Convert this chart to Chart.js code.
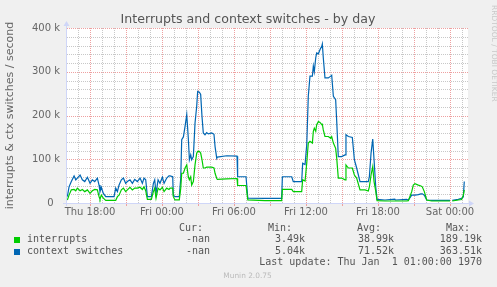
<!DOCTYPE html>
<html>
<head>
<meta charset="utf-8">
<script src="https://cdn.jsdelivr.net/npm/chart.js@4"></script>
<style>
html,body{margin:0;padding:0;background:#F0F0F0;}
#wrap{position:relative;width:497px;height:287px;overflow:hidden;background:#F0F0F0;}
#c{position:absolute;left:0;top:0;}
.tx{position:absolute;white-space:pre;}
.m{font-family:"DejaVu Sans Mono",monospace;font-size:10px;line-height:12px;color:#555;}
#title{left:0;width:496px;text-align:center;top:12px;font-family:"DejaVu Sans",sans-serif;font-size:12.6px;line-height:14px;color:#555;}
#wm{left:490px;top:5px;writing-mode:vertical-rl;font-family:"DejaVu Sans",sans-serif;font-size:7.5px;line-height:8px;color:#c8c8c8;}
#ver{left:0;width:495px;text-align:center;top:271px;font-family:"DejaVu Sans",sans-serif;font-size:7.4px;line-height:9px;color:#bbb;}
.sq{position:absolute;width:6px;height:6px;}
</style>
</head>
<body>
<div id="wrap">
<canvas id="c" width="497" height="287"></canvas>
<div id="title" class="tx">Interrupts and context switches - by day</div>
<div id="wm" class="tx">RRDTOOL / TOBI OETIKER</div>
<div id="ver" class="tx">Munin 2.0.75</div>
</div>
<script>
// time in hours since Thu 00:00
const hours = [16.11,16.25,16.44,16.67,16.81,16.94,17.17,17.36,17.56,17.78,18.0,18.19,18.39,18.61,18.75,18.83,18.94,19.11,19.31,20.0,20.14,20.28,20.42,20.61,20.78,20.97,21.11,21.33,21.53,21.72,21.94,22.17,22.36,22.5,22.64,22.78,23.11,23.28,23.39,23.5,23.67,23.83,24.03,24.17,24.39,24.58,24.67,24.89,24.94,25.08,25.44,25.56,25.64,25.78,25.92,26.06,26.19,26.28,26.39,26.47,26.61,26.75,26.89,26.97,27.11,27.22,27.33,27.44,27.58,27.72,27.86,28.14,28.33,28.42,28.56,28.61,29.39,30.25,30.3,31.0,31.15,32.58,33.97,34.03,34.81,34.94,35.64,35.72,35.92,36.06,36.19,36.33,36.53,36.61,36.69,36.81,36.89,37.03,37.17,37.31,37.36,37.44,37.58,37.86,38.06,38.14,38.28,38.47,38.56,38.69,38.97,39.25,39.33,39.53,39.86,40.03,40.22,40.5,40.92,41.19,41.28,41.42,41.56,41.67,41.81,41.92,42.58,43.4,43.45,44.39,44.53,44.81,44.94,45.08,45.36,45.58,45.69,45.86,46.06,46.47,48.0,48.08,48.19,48.69,48.97,49.11,49.19];
// interrupts per second, thousands
const interrupts = [7,18,30,31,28,34,28,31,26,30,22,28,31,30,14.5,8.5,18,11,6,6,6,14.5,18,30,34,26,30,36,30,34,34,36,31,37,28,8.5,8.5,26,34,11,34,30,36,26,34,31,34,34,14.5,7,7,34,68,68,80,87,60,53,60,41,49,87,114,118,118,114,99,80,80,82,82,82,80,68,56,54,55,56,40,40,7,5.3,5.3,31,31,26,26,53,50,91,137,141,137,164,171,164,179,186,184,179,180,167,152,152,148,152,137,125,102,57,57,53,87,80,80,64,57,30,30,27.5,37,64,83,49,27,5.3,4.6,4.6,4.6,4.6,5.3,26,41,44,41,39,37,26,6.9,4.6,4.6,null,4.6,6.9,8,18,30];
// context switches per second, thousands
const ctxSwitches = [14.5,37,49,62,53,57,64,53,49,59,45,53,49,57,41,26,36,22,14.5,14.5,34,26,41,53,57,45,49,53,45,54,49,57,45,57,53,14.5,14.5,45,53,22,53,45,59,45,57,62,62,60,18,14.5,14.5,57,145,151,175,202,148,99,110,99,106,183,221,255,253,248,198,160,156,161,158,160,157,129,102,105,108,107,60,60,11,10.7,10.7,60,60,49,49,91,88,133,244,290,290,313,300,332,343,341,351,358,363.5,332,286,286,290,292,244,236,186,106,106,110,156,152,150,99,80,49,49,49,60,114,146,99,37,8.4,6.9,9,6.9,8.4,6.9,18,18,18,19,21,21,18,6.9,6,6,null,6,8.4,10.7,14,49];

const xTickHours = [18,24,30,36,42,48];
const xTickLabels = ['Thu 18:00','Fri 00:00','Fri 06:00','Fri 12:00','Fri 18:00','Sat 00:00'];
const yTickValues = [0,100,200,300,400];
const yTickLabels = ['0  ','100 k','200 k','300 k','400 k'];

const seriesNames = ['interrupts','context switches'];
const seriesColors = ['#00CC00','#0066B3'];
const curVals = ['-nan','-nan'];
const minVals = ['3.49k','5.04k'];
const avgVals = ['38.99k','71.52k'];
const maxVals = ['189.19k','363.51k'];
const lastUpdate = 'Last update: Thu Jan  1 01:00:00 1970';

const MINOR = '#c8c8c8';
const MAJOR = '#eea0a0';
const AXIS = '#CFD6F8';

const framePlugin = {
  id: 'frame',
  beforeDraw(chart) {
    const {ctx, chartArea: a} = chart;
    ctx.save();
    ctx.fillStyle = '#FFFFFF';
    ctx.fillRect(a.left, a.top, a.right - a.left, a.bottom - a.top);
    ctx.restore();
  },
  beforeDatasetsDraw(chart) {
    const {ctx, chartArea: a, scales} = chart;
    const xs = scales.x, ys = scales.y;
    ctx.save();
    ctx.lineWidth = 1;
    ctx.setLineDash([1, 1]);
    for (let v = 20; v <= ys.max; v += 20) {
      const py = Math.round(ys.getPixelForValue(v)) + 0.5;
      ctx.strokeStyle = (v % 100 === 0) ? MAJOR : MINOR;
      ctx.beginPath(); ctx.moveTo(a.left, py); ctx.lineTo(a.right, py); ctx.stroke();
    }
    for (let h = Math.ceil(xs.min); h <= xs.max; h++) {
      const px = Math.round(xs.getPixelForValue(h)) + 0.5;
      ctx.strokeStyle = (h % 3 === 0) ? MAJOR : MINOR;
      ctx.beginPath(); ctx.moveTo(px, a.bottom); ctx.lineTo(px, a.top); ctx.stroke();
    }
    ctx.restore();
  },
  afterDraw(chart) {
    const {ctx, chartArea: a, scales} = chart;
    const xs = scales.x;
    ctx.save();
    ctx.lineWidth = 1;
    ctx.strokeStyle = MAJOR;
    for (let h = Math.ceil(xs.min); h <= xs.max; h++) {
      if (h % 3 !== 0) continue;
      const px = Math.round(xs.getPixelForValue(h)) + 0.5;
      ctx.beginPath(); ctx.moveTo(px, a.bottom); ctx.lineTo(px, a.bottom + 3); ctx.stroke();
    }
    ctx.strokeStyle = AXIS; ctx.fillStyle = AXIS;
    const ax = a.left - 0.5;
    ctx.beginPath(); ctx.moveTo(ax, a.bottom + 3); ctx.lineTo(ax, a.top - 2); ctx.stroke();
    ctx.beginPath(); ctx.moveTo(ax - 3, a.top - 2); ctx.lineTo(ax + 3, a.top - 2); ctx.lineTo(ax, a.top - 7); ctx.closePath(); ctx.fill();
    const ay = a.bottom + 0.5;
    ctx.beginPath(); ctx.moveTo(a.left - 4, ay); ctx.lineTo(a.right + 1, ay); ctx.stroke();
    ctx.beginPath(); ctx.moveTo(a.right + 1, ay - 3); ctx.lineTo(a.right + 1, ay + 3); ctx.lineTo(a.right + 6, ay); ctx.closePath(); ctx.fill();
    ctx.restore();
  }
};

function pts(vals) { return hours.map((h, i) => ({x: h, y: vals[i]})); }

new Chart(document.getElementById('c'), {
  type: 'line',
  data: {
    datasets: [
      {label: seriesNames[0], data: pts(interrupts), borderColor: seriesColors[0], borderWidth: 1.2, pointRadius: 0, tension: 0, fill: false, spanGaps: false},
      {label: seriesNames[1], data: pts(ctxSwitches), borderColor: seriesColors[1], borderWidth: 1.2, pointRadius: 0, tension: 0, fill: false, spanGaps: false}
    ]
  },
  options: {
    responsive: false,
    animation: false,
    devicePixelRatio: 1,
    layout: {padding: {left: 0, right: 29, top: 28, bottom: 0}},
    plugins: {legend: {display: false}, tooltip: {enabled: false}, title: {display: false}},
    scales: {
      x: {
        type: 'linear', min: 16.08, max: 49.5,
        afterFit: s => { s.height = 84; },
        grid: {display: false, drawTicks: false},
        border: {display: false},
        ticks: {
          stepSize: 1, autoSkip: false, maxRotation: 0, minRotation: 0, includeBounds: false, padding: 3,
          color: '#666', font: {family: 'DejaVu Sans', size: 10},
          callback: v => { const i = xTickHours.indexOf(Math.round(v)); return (i >= 0 && Math.abs(v - xTickHours[i]) < 1e-6) ? xTickLabels[i] : ''; }
        }
      },
      y: {
        min: 0, max: 400,
        afterFit: s => { s.width = 67; },
        grid: {display: false, drawTicks: false},
        border: {display: false},
        title: {display: true, text: 'interrupts & ctx switches / second', color: '#666', font: {family: 'DejaVu Sans', size: 11}, padding: {top: 4, bottom: 0}},
        ticks: {
          stepSize: 20, autoSkip: false, includeBounds: false, padding: 7,
          color: '#666', font: {family: 'DejaVu Sans', size: 10},
          callback: v => { const i = yTickValues.indexOf(Math.round(v)); return (i >= 0 && Math.abs(v - yTickValues[i]) < 1e-6) ? yTickLabels[i] : ''; }
        }
      }
    }
  },
  plugins: [framePlugin]
});

// legend table (text)
const wrap = document.getElementById('wrap');
function addText(txt, right, top) {
  const d = document.createElement('div');
  d.className = 'tx m';
  d.textContent = txt;
  d.style.right = right + 'px';
  d.style.top = top + 'px';
  wrap.appendChild(d);
  return d;
}
const headers = ['Cur:','Min:','Avg:','Max:'];
const headerRight = [294, 205, 116, 27];
const valueRight = [287, 192, 103, 15];
const headerTop = 222;
const rowTops = [233, 244.5];
headers.forEach((h, i) => addText(h, headerRight[i], headerTop));
seriesNames.forEach((name, r) => {
  const sq = document.createElement('div');
  sq.className = 'sq';
  sq.style.left = '14px';
  sq.style.top = (rowTops[r] + 4) + 'px';
  sq.style.background = seriesColors[r];
  wrap.appendChild(sq);
  const n = document.createElement('div');
  n.className = 'tx m';
  n.textContent = name;
  n.style.left = '27px';
  n.style.top = rowTops[r] + 'px';
  wrap.appendChild(n);
  [curVals, minVals, avgVals, maxVals].forEach((arr, c) => addText(arr[r], valueRight[c], rowTops[r]));
});
addText(lastUpdate, 15, 256);
</script>
</body>
</html>
